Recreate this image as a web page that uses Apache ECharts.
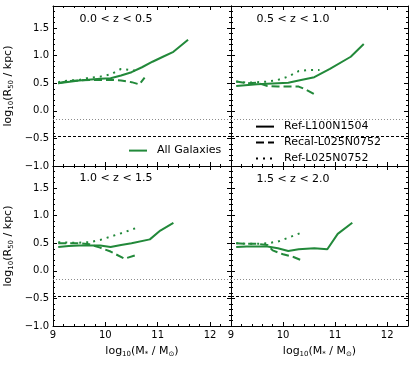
<!DOCTYPE html>
<html>
<head>
<meta charset="utf-8">
<script src="https://cdn.jsdelivr.net/npm/echarts@6/dist/echarts.min.js"></script>
<style>
  html, body { margin: 0; padding: 0; background: #fff; }
  #chart { width: 415px; height: 365px; }
</style>
</head>
<body>
<div id="chart"></div>
<script>
// tick labels
const xTicks = [9, 10, 11, 12];
const yTicks = [-1.0, -0.5, 0.0, 0.5, 1.0, 1.5];
const panelLabels = ["0.0 < z < 0.5", "0.5 < z < 1.0", "1.0 < z < 1.5", "1.5 < z < 2.0"];

// horizontal limits drawn in every panel
const dottedLimit = -0.155;
const dashedLimit = -0.456;

// Ref-L100N1504 (solid), [log M*, log R50]
const ref100_z0 = [[9.1,0.50],[9.5,0.55],[9.9,0.58],[10.1,0.59],[10.3,0.64],[10.5,0.70],[10.7,0.79],[10.9,0.89],[11.1,0.98],[11.3,1.07],[11.58,1.29]];
const ref100_z1 = [[9.1,0.45],[9.5,0.48],[9.9,0.50],[10.1,0.51],[10.3,0.55],[10.6,0.61],[10.9,0.76],[11.3,0.98],[11.55,1.21]];
const ref100_z2 = [[9.1,0.43],[9.3,0.45],[9.5,0.46],[9.7,0.46],[9.9,0.46],[10.1,0.43],[10.3,0.47],[10.5,0.50],[10.85,0.57],[11.05,0.73],[11.3,0.87]];
const ref100_z3 = [[9.1,0.43],[9.3,0.44],[9.5,0.44],[9.7,0.44],[9.9,0.41],[10.1,0.36],[10.3,0.39],[10.6,0.41],[10.85,0.39],[11.05,0.67],[11.33,0.87]];

// Recal-L025N0752 (dashed)
const recal_z0 = [[9.1,0.50],[9.3,0.54],[9.5,0.55],[9.7,0.56],[9.9,0.56],[10.1,0.56],[10.3,0.55],[10.5,0.52],[10.65,0.48],[10.75,0.60]];
const recal_z1 = [[9.1,0.53],[9.3,0.50],[9.5,0.51],[9.7,0.45],[9.9,0.44],[10.1,0.44],[10.3,0.44],[10.45,0.38],[10.6,0.30]];
const recal_z2 = [[9.1,0.50],[9.3,0.50],[9.5,0.50],[9.7,0.48],[9.9,0.42],[10.1,0.35],[10.2,0.30],[10.37,0.22],[10.6,0.29]];
const recal_z3 = [[9.1,0.50],[9.3,0.49],[9.5,0.49],[9.7,0.47],[9.8,0.37],[10.0,0.30],[10.2,0.25],[10.38,0.18]];

// Ref-L025N0752 (dotted)
const ref025_z0 = [[9.1,0.52],[9.3,0.55],[9.5,0.56],[9.7,0.60],[9.9,0.62],[10.1,0.66],[10.3,0.76],[10.5,0.74],[10.6,0.72]];
const ref025_z1 = [[9.1,0.53],[9.3,0.51],[9.5,0.52],[9.7,0.53],[9.9,0.56],[10.1,0.62],[10.3,0.72],[10.5,0.74],[10.7,0.74]];
const ref025_z2 = [[9.1,0.52],[9.3,0.51],[9.5,0.51],[9.7,0.52],[9.9,0.56],[10.1,0.62],[10.3,0.68],[10.6,0.78]];
const ref025_z3 = [[9.1,0.50],[9.3,0.49],[9.5,0.49],[9.7,0.50],[9.9,0.53],[10.1,0.60],[10.35,0.69]];

const solidData = [ref100_z0, ref100_z1, ref100_z2, ref100_z3];
const dashedData = [recal_z0, recal_z1, recal_z2, recal_z3];
const dottedData = [ref025_z0, ref025_z1, ref025_z2, ref025_z3];

const FONT = "DejaVu Sans";
const GREEN = "#22893a";
const DASH = [8, 4];
const DOT = [2, 5];
const NO_SYMBOL = { color: "rgba(0,0,0,0)", borderWidth: 0, opacity: 0 };

const chart = echarts.init(document.getElementById("chart"));

const grids = [
  { left: 53, top: 6, width: 178, height: 160 },
  { left: 231, top: 6, width: 177, height: 160 },
  { left: 53, top: 166, width: 178, height: 160 },
  { left: 231, top: 166, width: 177, height: 160 }
];

const subRich = {
  a: { fontFamily: FONT, fontSize: 11, color: "#000", lineHeight: 14 },
  b: { fontFamily: FONT, fontSize: 7, color: "#000", lineHeight: 7, verticalAlign: "bottom" }
};

const fmtY = v => (v < 0 ? "\u2212" : "") + Math.abs(v).toFixed(1);

const xAxes = [];
const yAxes = [];
grids.forEach((g, i) => {
  const bottomRow = i >= 2;
  const leftCol = i % 2 === 0;
  const xBase = { gridIndex: i, type: "value", min: 9, max: 12.4, splitLine: { show: false } };
  const yBase = { gridIndex: i, type: "value", min: -1, max: 1.9, splitLine: { show: false } };
  const line = { show: true, onZero: false, lineStyle: { color: "#000", width: 1 } };
  // x: major bottom, major top, minor bottom, minor top
  xAxes.push(Object.assign({}, xBase, {
    position: "bottom", interval: 1, axisLine: line,
    axisTick: { inside: true, length: 4, customValues: xTicks, lineStyle: { color: "#000" } },
    axisLabel: { show: bottomRow, customValues: xTicks, margin: 4, fontFamily: FONT, fontSize: 10, color: "#000" },
    name: bottomRow ? "{a|log}{b|10}{a|(M}{b|*}{a| / M}{b|\u2299}{a|)}" : "",
    nameLocation: "middle", nameGap: 18, nameTextStyle: { rich: subRich }
  }));
  xAxes.push(Object.assign({}, xBase, {
    position: "top", interval: 1, axisLine: line,
    axisTick: { inside: true, length: 4, customValues: xTicks, lineStyle: { color: "#000" } },
    axisLabel: { show: false }
  }));
  ["bottom", "top"].forEach(p => xAxes.push(Object.assign({}, xBase, {
    position: p, interval: 0.2, axisLine: { show: false, onZero: false },
    axisTick: { inside: true, length: 2, lineStyle: { color: "#000" } },
    axisLabel: { show: false }
  })));
  // y: major left, major right, minor left, minor right
  yAxes.push(Object.assign({}, yBase, {
    position: "left", interval: 0.5, axisLine: line,
    axisTick: { inside: true, length: 4, customValues: yTicks, lineStyle: { color: "#000" } },
    axisLabel: { show: leftCol, customValues: yTicks, formatter: fmtY, margin: 4, fontFamily: FONT, fontSize: 10, color: "#000" },
    name: leftCol ? "{a|log}{b|10}{a|(R}{b|50}{a| / kpc)}" : "",
    nameLocation: "middle", nameGap: 38, nameRotate: 90, nameTextStyle: { rich: subRich }
  }));
  yAxes.push(Object.assign({}, yBase, {
    position: "right", interval: 0.5, axisLine: line,
    axisTick: { inside: true, length: 4, customValues: yTicks, lineStyle: { color: "#000" } },
    axisLabel: { show: false }
  }));
  ["left", "right"].forEach(p => yAxes.push(Object.assign({}, yBase, {
    position: p, interval: 0.1, axisLine: { show: false, onZero: false },
    axisTick: { inside: true, length: 2, lineStyle: { color: "#000" } },
    axisLabel: { show: false }
  })));
});

const series = [];
grids.forEach((g, i) => {
  const common = { type: "line", xAxisIndex: 4 * i, yAxisIndex: 4 * i, symbol: "none", silent: true, color: GREEN };
  series.push(Object.assign({}, common, {
    name: "Ref-L100N1504", data: solidData[i], z: 3,
    lineStyle: { color: GREEN, width: 2 },
    markLine: {
      silent: true, symbol: "none", label: { show: false },
      data: [
        { yAxis: dottedLimit, lineStyle: { color: "#8c8c8c", type: [1, 2], width: 1 } },
        { yAxis: dashedLimit, lineStyle: { color: "#000", type: [3, 2], width: 1 } }
      ]
    }
  }));
  series.push(Object.assign({}, common, {
    name: "Recal-L025N0752", data: dashedData[i],
    lineStyle: { color: GREEN, width: 2, type: DASH }
  }));
  series.push(Object.assign({}, common, {
    name: "Ref-L025N0752", data: dottedData[i],
    lineStyle: { color: GREEN, width: 2, type: DOT }
  }));
});
// legend entry only
series.push({ type: "line", name: "All Galaxies", xAxisIndex: 0, yAxisIndex: 0, symbol: "none", data: [], color: GREEN, lineStyle: { color: GREEN, width: 2 } });

const labelPos = [[116, 19], [293, 19], [116, 178], [293, 179]];

const option = {
  animation: false,
  grid: grids.map(g => Object.assign({ show: false }, g)),
  xAxis: xAxes,
  yAxis: yAxes,
  legend: [
    {
      left: 128, top: 145, padding: 0, itemWidth: 18, itemHeight: 14, selectedMode: false,
      textStyle: { fontFamily: FONT, fontSize: 11, color: "#000", padding: [0, 0, 0, 5] },
      data: [{ name: "All Galaxies", itemStyle: NO_SYMBOL, lineStyle: { color: GREEN, width: 2 } }]
    },
    {
      left: 255, top: 121, padding: 0, orient: "vertical", itemWidth: 18, itemHeight: 14, itemGap: 4.7, selectedMode: false,
      textStyle: { fontFamily: FONT, fontSize: 11, color: "#000", padding: [0, 0, 0, 5] },
      data: [
        { name: "Ref-L100N1504", itemStyle: NO_SYMBOL, lineStyle: { color: "#000", width: 2, type: "solid" } },
        { name: "Recal-L025N0752", itemStyle: NO_SYMBOL, lineStyle: { color: "#000", width: 2, type: DASH } },
        { name: "Ref-L025N0752", itemStyle: NO_SYMBOL, lineStyle: { color: "#000", width: 2, type: DOT } }
      ]
    }
  ],
  graphic: panelLabels.map((t, i) => ({
    type: "text", x: labelPos[i][0], y: labelPos[i][1], silent: true,
    style: { text: t, fontFamily: FONT, fontSize: 11, fill: "#000", textAlign: "center", textVerticalAlign: "middle" }
  })),
  series: series
};

chart.setOption(option);
window.addEventListener("resize", () => chart.resize());
</script>
</body>
</html>
